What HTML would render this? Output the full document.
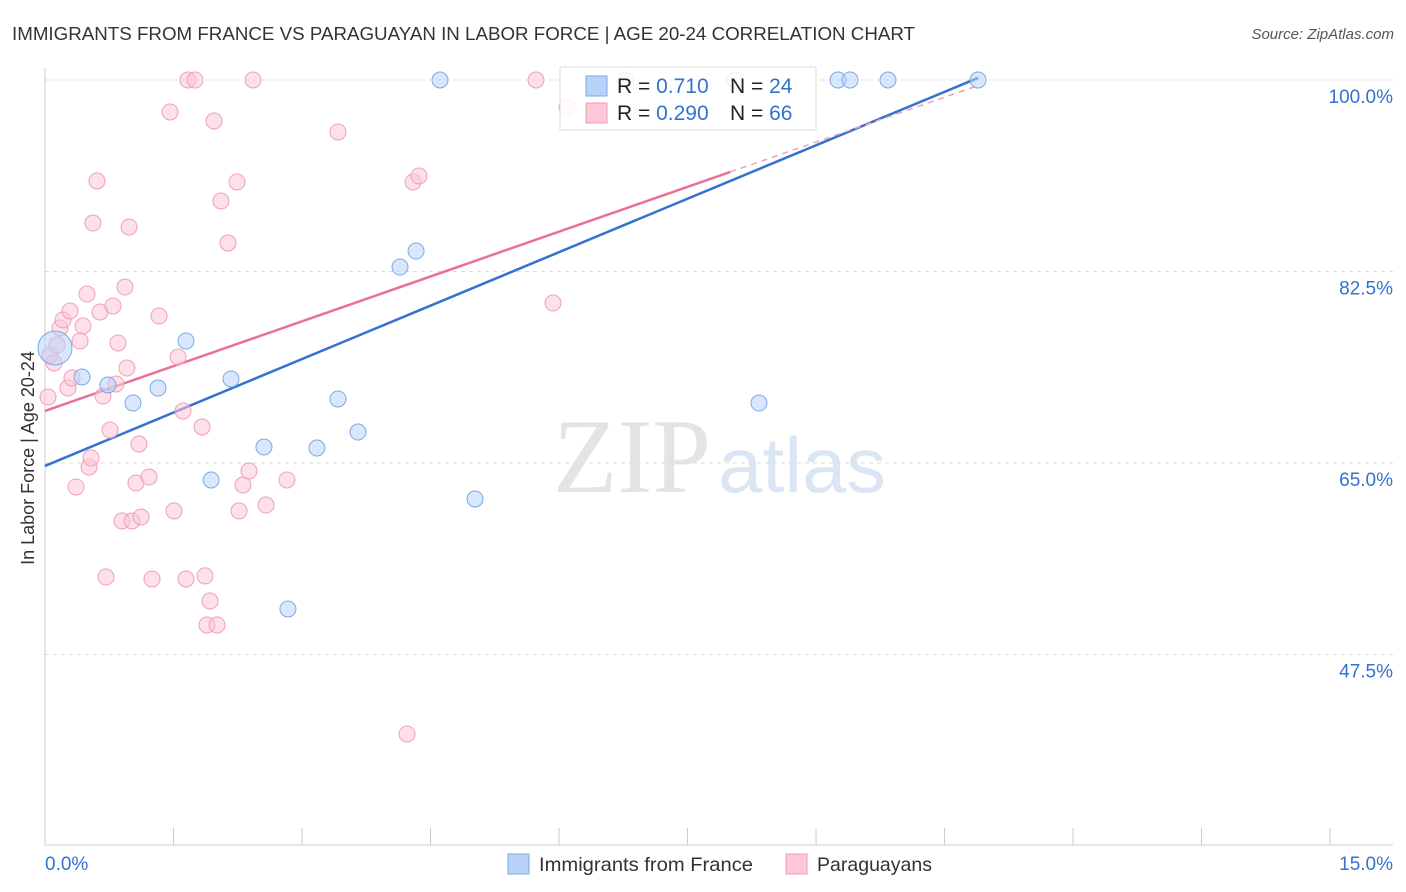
<!DOCTYPE html>
<html><head><meta charset="utf-8"><style>
body{margin:0;background:#fff;font-family:"Liberation Sans",sans-serif;}
svg{display:block}
</style></head><body>
<svg id="chart" width="1406" height="892" xmlns="http://www.w3.org/2000/svg">
<text x="12" y="40" font-size="18.5" fill="#333" textLength="903" lengthAdjust="spacingAndGlyphs">IMMIGRANTS FROM FRANCE VS PARAGUAYAN IN LABOR FORCE | AGE 20-24 CORRELATION CHART</text>
<text x="1394" y="39" font-size="15" fill="#555" text-anchor="end" font-style="italic">Source: ZipAtlas.com</text>
<text x="553" y="492" font-size="106" fill="#e4e4e4" font-family="Liberation Serif" textLength="158" lengthAdjust="spacingAndGlyphs">ZIP</text>
<text x="718" y="492" font-size="78" fill="#dbe6f5" textLength="168" lengthAdjust="spacingAndGlyphs">atlas</text>
<g id="grid"></g><g id="axes"></g><g id="lines"></g><g id="pts"></g>
<g>
<rect x="560" y="67" width="256" height="63" fill="#fff" fill-opacity="0.85" stroke="#ddd"/>
<rect x="586" y="76" width="21" height="20" fill="#b8d3f7" stroke="#7aaae8"/>
<rect x="586" y="103" width="21" height="20" fill="#fcc7d6" stroke="#f19ab4"/>
<text x="617" y="93" font-size="21" fill="#222">R = <tspan fill="#3471d0">0.710</tspan></text>
<text x="730" y="93" font-size="21" fill="#222">N = <tspan fill="#3471d0">24</tspan></text>
<text x="617" y="120" font-size="21" fill="#222">R = <tspan fill="#3471d0">0.290</tspan></text>
<text x="730" y="120" font-size="21" fill="#222">N = <tspan fill="#3471d0">66</tspan></text>
</g>
<g>
<rect x="508" y="854" width="21" height="20" fill="#b8d3f7" stroke="#7aaae8"/>
<text x="539" y="871" font-size="19.5" fill="#333" textLength="214" lengthAdjust="spacingAndGlyphs">Immigrants from France</text>
<rect x="786" y="854" width="21" height="20" fill="#fcc7d6" stroke="#f19ab4"/>
<text x="817" y="871" font-size="19.5" fill="#333" textLength="115" lengthAdjust="spacingAndGlyphs">Paraguayans</text>
</g>
<text x="34" y="458" font-size="18" fill="#333" transform="rotate(-90 34 458)" text-anchor="middle">In Labor Force | Age 20-24</text>
</svg>
<script>
const yTicks=[100,82.5,65,47.5];
const yTickLabels=["100.0%","82.5%","65.0%","47.5%"];
const xTickCount=11;
const blueX=[0.117,0.432,0.735,1.027,1.319,1.646,1.938,2.171,2.556,2.836,3.175,3.420,3.654,4.144,4.331,4.611,5.020,6.782,8.054,8.334,9.257,9.397,9.840,10.891];
const blueY=[75.51,72.86,72.13,70.48,71.85,76.15,63.45,72.68,66.46,51.66,66.37,70.85,67.83,82.91,84.37,100,61.71,100,100,70.48,100,100,100,100];
const pinkX=[0.035,0.058,0.105,0.140,0.175,0.210,0.292,0.268,0.315,0.362,0.409,0.444,0.490,0.514,0.537,0.560,0.607,0.642,0.677,0.712,0.759,0.794,0.829,0.852,0.899,0.934,0.957,0.981,1.016,1.062,1.097,1.121,1.214,1.249,1.331,1.459,1.506,1.553,1.611,1.646,1.669,1.751,1.833,1.868,1.891,1.926,1.973,2.008,2.054,2.136,2.241,2.265,2.311,2.381,2.428,2.580,2.825,3.420,4.226,4.296,4.366,5.731,5.930,6.093];
const pinkY=[71.03,74.87,74.14,75.78,77.34,78.07,78.89,71.85,72.77,62.81,76.15,77.52,80.44,64.64,65.46,86.93,90.77,78.80,71.12,54.58,68.02,79.35,72.22,75.97,59.70,81.08,73.68,86.57,59.70,63.17,66.74,60.07,63.72,54.40,78.43,97.08,60.62,74.69,69.75,54.40,100,100,68.29,54.68,50.20,52.39,96.25,50.20,88.94,85.11,90.68,60.62,62.99,64.27,100,61.16,63.45,95.25,40.24,90.68,91.23,100,79.62,97.53];
const blueLine=[64.73,3.256];
const pinkLine=[69.76,2.73];
const NS="http://www.w3.org/2000/svg";
const X=v=>45+v*85.67, Y=v=>80+(100-v)*10.943;
function mk(t,a,p){const e=document.createElementNS(NS,t);for(const k in a)e.setAttribute(k,a[k]);document.getElementById(p).appendChild(e);return e;}
yTicks.forEach((t,i)=>{
 const g=mk('line',{x1:45,x2:1393,y1:Y(t),y2:Y(t),stroke:'#ddd','stroke-dasharray':'4,4'},'grid');
 
 
 const l=mk('text',{x:1393,y:Y(t)+23,'font-size':19,fill:'#3471d0','text-anchor':'end'},'axes');
 l.textContent=yTickLabels[i];
 
 
});
mk('line',{x1:45,x2:45,y1:68,y2:845,stroke:'#ccc'},'axes');
mk('line',{x1:45,x2:1393,y1:845,y2:845,stroke:'#ccc'},'axes');
for(let i=0;i<xTickCount;i++){const tk=mk('line',{x1:X(i*1.5),x2:X(i*1.5),y1:828,y2:845,stroke:'#ccc'},'axes');
 
 }
const x0=mk('text',{x:45,y:870,'font-size':19,fill:'#3471d0'},'axes');x0.textContent='0.0%';


const x1=mk('text',{x:1393,y:870,'font-size':19,fill:'#3471d0','text-anchor':'end'},'axes');x1.textContent='15.0%';


pinkX.forEach((x,i)=>{const c=mk('circle',{cx:X(x),cy:Y(pinkY[i]),r:8,fill:'#fcc7d6','fill-opacity':0.55,stroke:'#f0a0b8','stroke-width':1},'pts');
 
 });
blueX.forEach((x,i)=>{const c=mk('circle',{cx:X(x),cy:Y(blueY[i]),r:i===0?17:8,fill:'#b8d3f7','fill-opacity':0.55,stroke:'#7aaae8','stroke-width':1},'pts');
 
 });
const bl=mk('line',{x1:X(0),y1:Y(blueLine[0]),x2:X(10.891),y2:Y(blueLine[0]+blueLine[1]*10.891),stroke:'#3471d0','stroke-width':2.5},'lines');


const pl=mk('line',{x1:X(0),y1:Y(pinkLine[0]),x2:X(8),y2:Y(pinkLine[0]+pinkLine[1]*8),stroke:'#e8709a','stroke-width':2.5},'lines');


const pd=mk('line',{x1:X(8),y1:Y(pinkLine[0]+pinkLine[1]*8),x2:X(10.891),y2:Y(pinkLine[0]+pinkLine[1]*10.891),stroke:'#f0a0b8','stroke-width':1.5,'stroke-dasharray':'6,5'},'lines');


</script>
</body></html>
